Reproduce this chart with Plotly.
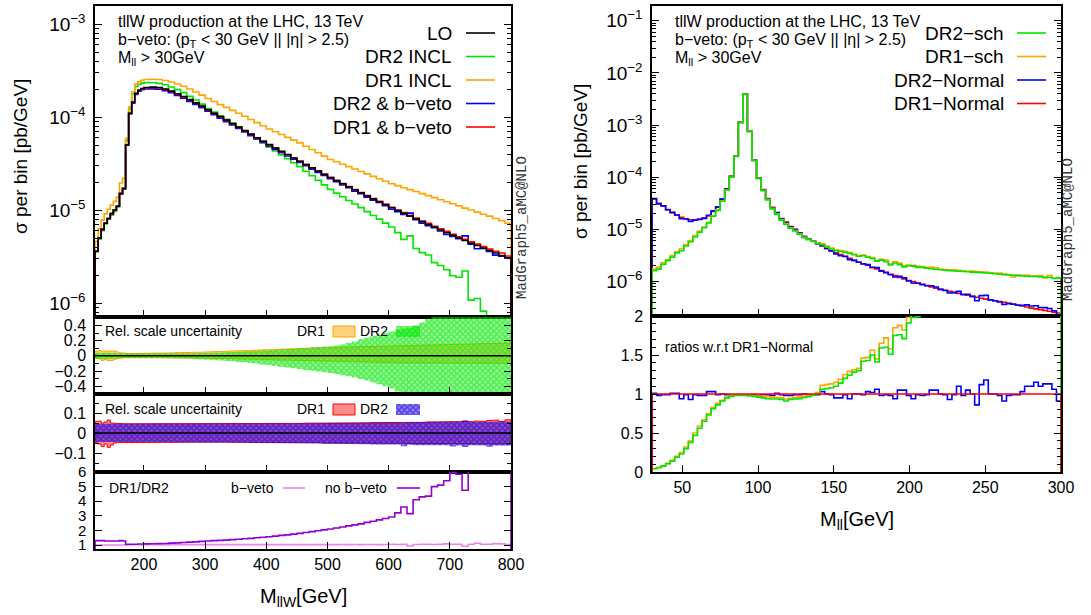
import plotly.graph_objects as go

# ======================= DATA : left plot (M_llW) =======================
left_edges = list(range(120, 200, 5)) + list(range(200, 801, 10))   # 76 bins

lo = [3.6e-6, 5.0e-6, 6.2e-6, 7.2e-6, 8.1e-6, 9.2e-6, 1.0e-5, 1.1e-5, 1.5e-5, 1.7e-5, 5.0e-5, 1.1e-4, 1.45e-4, 1.8e-4, 1.95e-4, 2.03e-4,
      2.08e-4, 2.1e-4, 2.08e-4, 2.0e-4, 1.9e-4, 1.78e-4, 1.66e-4, 1.54e-4, 1.42e-4, 1.31e-4,
      1.2e-4, 1.1e-4, 1.01e-4, 9.3e-5, 8.5e-5, 7.8e-5, 7.15e-5, 6.55e-5, 6.0e-5, 5.5e-5,
      5.05e-5, 4.65e-5, 4.28e-5, 3.95e-5, 3.63e-5, 3.35e-5, 3.08e-5, 2.84e-5, 2.62e-5, 2.42e-5,
      2.24e-5, 2.07e-5, 1.92e-5, 1.78e-5, 1.65e-5, 1.53e-5, 1.42e-5, 1.32e-5, 1.23e-5, 1.14e-5,
      1.06e-5, 9.9e-6, 9.2e-6, 8.6e-6, 8.0e-6, 7.5e-6, 7.0e-6, 6.55e-6, 6.1e-6, 5.7e-6,
      5.35e-6, 5.0e-6, 4.7e-6, 4.4e-6, 4.15e-6, 3.9e-6, 3.65e-6, 3.45e-6, 3.25e-6, 3.05e-6]

dr1_bveto = [3.6e-6, 5.0e-6, 6.2e-6, 7.2e-6, 8.1e-6, 9.1e-6, 1.0e-5, 1.1e-5, 1.5e-5, 1.7e-5, 5.0e-5, 1.1e-4, 1.44e-4, 1.78e-4, 1.93e-4, 2.01e-4,
             2.06e-4, 2.07e-4, 2.05e-4, 1.98e-4, 1.88e-4, 1.76e-4, 1.64e-4, 1.52e-4, 1.41e-4, 1.3e-4,
             1.19e-4, 1.09e-4, 1.0e-4, 9.2e-5, 8.45e-5, 7.75e-5, 7.1e-5, 6.5e-5, 5.97e-5, 5.48e-5,
             5.03e-5, 4.63e-5, 4.26e-5, 3.93e-5, 3.62e-5, 3.34e-5, 3.08e-5, 2.84e-5, 2.62e-5, 2.42e-5,
             2.24e-5, 2.08e-5, 1.93e-5, 1.79e-5, 1.66e-5, 1.54e-5, 1.43e-5, 1.33e-5, 1.24e-5, 1.16e-5,
             1.07e-5, 1.0e-5, 9.4e-6, 8.7e-6, 8.2e-6, 7.6e-6, 7.2e-6, 6.7e-6, 6.3e-6, 5.9e-6,
             5.5e-6, 5.15e-6, 4.85e-6, 4.55e-6, 4.3e-6, 4.05e-6, 3.8e-6, 3.6e-6, 3.45e-6, 3.2e-6]

# DR1/DR2 ratio with b-veto
ratio_bveto = [1.0, 1.0, 1.0, 1.0, 1.0, 1.0, 1.0, 1.0, 1.0, 1.0, 1.0, 1.02, 1.02, 1.02, 1.02, 1.02,
               1.03, 1.03, 1.03, 1.03, 1.03, 1.03, 1.03, 1.03, 1.03, 1.03,
               1.03, 1.03, 1.03, 1.03, 1.03, 1.03, 1.03, 1.03, 1.03, 1.03,
               1.03, 1.03, 1.03, 1.03, 1.03, 1.03, 1.03, 1.03, 1.03, 1.03,
               1.03, 1.03, 1.04, 1.03, 1.04, 1.03, 1.04, 1.04, 1.03, 1.04,
               1.05, 1.04, 1.05, 0.94, 1.04, 1.05, 1.06, 1.04, 1.06, 1.08,
               1.06, 1.05, 0.92, 1.06, 1.12, 1.05, 1.06, 1.1, 1.08, 1.04]

dr1_incl = [4.6e-6, 6.3e-6, 7.8e-6, 9.1e-6, 1.02e-5, 1.13e-5, 1.24e-5, 1.38e-5, 1.95e-5, 2.2e-5, 5.9e-5, 1.29e-4, 1.87e-4, 2.26e-4, 2.4e-4, 2.48e-4,
            2.53e-4, 2.55e-4, 2.53e-4, 2.47e-4, 2.38e-4, 2.27e-4, 2.14e-4, 2.0e-4, 1.86e-4, 1.72e-4,
            1.58e-4, 1.47e-4, 1.36e-4, 1.27e-4, 1.18e-4, 1.1e-4, 1.02e-4, 9.4e-5, 8.7e-5, 8.05e-5,
            7.45e-5, 6.95e-5, 6.5e-5, 6.05e-5, 5.65e-5, 5.28e-5, 4.86e-5, 4.48e-5, 4.13e-5, 3.8e-5,
            3.5e-5, 3.3e-5, 3.11e-5, 2.93e-5, 2.76e-5, 2.6e-5, 2.45e-5, 2.3e-5, 2.17e-5, 2.04e-5,
            1.92e-5, 1.83e-5, 1.74e-5, 1.66e-5, 1.58e-5, 1.5e-5, 1.43e-5, 1.36e-5, 1.29e-5, 1.23e-5,
            1.17e-5, 1.11e-5, 1.05e-5, 1.0e-5, 9.5e-6, 9.0e-6, 8.6e-6, 8.1e-6, 7.7e-6, 7.2e-6]

# DR1/DR2 ratio without b-veto
ratio_noveto = [1.3, 1.3, 1.3, 1.28, 1.28, 1.28, 1.28, 1.28, 1.3, 1.28, 1.05, 1.05, 1.05, 1.06, 1.07, 1.07,
                1.08, 1.09, 1.1, 1.11, 1.13, 1.15, 1.17, 1.2, 1.22, 1.25,
                1.28, 1.3, 1.32, 1.34, 1.37, 1.4, 1.43, 1.46, 1.5, 1.53,
                1.57, 1.61, 1.66, 1.7, 1.75, 1.8, 1.86, 1.92, 1.98, 2.04,
                2.1, 2.17, 2.24, 2.31, 2.38, 2.45, 2.55, 2.63, 2.72, 2.82,
                2.92, 3.2, 3.6, 3.15, 4.1, 4.3, 4.35, 5.0, 5.1, 5.4,
                5.95, 5.85, 4.75, 9.3, 8.5, 11.0, 12.0, 16.0, 22.0, 30.0]

# relative scale uncertainty, inclusive
unc_dr1_incl_up = [0.06, 0.07, 0.06, 0.065, 0.06, 0.06, 0.065, 0.05, 0.04, 0.035, 0.03, 0.03, 0.03, 0.032, 0.032, 0.033,
                   0.034, 0.035, 0.036, 0.037, 0.039, 0.041, 0.043, 0.045, 0.047, 0.049,
                   0.051, 0.054, 0.057, 0.06, 0.063, 0.066, 0.069, 0.072, 0.075, 0.078,
                   0.081, 0.084, 0.087, 0.09, 0.093, 0.096, 0.099, 0.102, 0.105, 0.108,
                   0.11, 0.112, 0.114, 0.116, 0.118, 0.12, 0.122, 0.124, 0.126, 0.128,
                   0.13, 0.132, 0.134, 0.136, 0.138, 0.14, 0.142, 0.144, 0.146, 0.148,
                   0.15, 0.152, 0.154, 0.156, 0.158, 0.16, 0.162, 0.164, 0.166, 0.168]
unc_dr1_incl_lo = [-0.03, -0.04, -0.06, -0.05, -0.065, -0.06, -0.045, -0.035, -0.03, -0.025, -0.02, -0.02, -0.02, -0.02, -0.02, -0.02,
                   -0.02, -0.021, -0.022, -0.023, -0.024, -0.025, -0.026, -0.027, -0.028, -0.029,
                   -0.03, -0.032, -0.034, -0.036, -0.038, -0.04, -0.042, -0.044, -0.046, -0.048,
                   -0.05, -0.052, -0.054, -0.056, -0.058, -0.06, -0.062, -0.064, -0.066, -0.068,
                   -0.07, -0.072, -0.074, -0.076, -0.078, -0.08, -0.082, -0.084, -0.086, -0.088,
                   -0.09, -0.092, -0.094, -0.096, -0.098, -0.1, -0.1, -0.1, -0.1, -0.1,
                   -0.1, -0.1, -0.1, -0.1, -0.1, -0.1, -0.1, -0.1, -0.1, -0.1]
unc_dr2_incl_up = [0.04, 0.045, 0.04, 0.045, 0.04, 0.04, 0.04, 0.035, 0.03, 0.03, 0.025, 0.025, 0.025, 0.025, 0.025, 0.025,
                   0.025, 0.025, 0.026, 0.027, 0.028, 0.029, 0.03, 0.032, 0.034, 0.036,
                   0.038, 0.04, 0.043, 0.046, 0.05, 0.054, 0.058, 0.062, 0.066, 0.07,
                   0.074, 0.078, 0.083, 0.088, 0.093, 0.1, 0.105, 0.11, 0.115, 0.12,
                   0.125, 0.135, 0.15, 0.17, 0.19, 0.22, 0.24, 0.26, 0.28, 0.3,
                   0.32, 0.34, 0.36, 0.37, 0.4, 0.44, 0.49, 0.6, 0.6, 0.6,
                   0.6, 0.6, 0.6, 0.6, 0.6, 0.6, 0.6, 0.6, 0.6, 0.6]
unc_dr2_incl_lo = [-0.04, -0.045, -0.05, -0.045, -0.04, -0.04, -0.04, -0.035, -0.03, -0.03, -0.025, -0.025, -0.025, -0.025, -0.025, -0.025,
                   -0.025, -0.025, -0.026, -0.028, -0.03, -0.032, -0.035, -0.038, -0.042, -0.046,
                   -0.05, -0.055, -0.06, -0.066, -0.072, -0.08, -0.088, -0.096, -0.105, -0.115,
                   -0.125, -0.135, -0.145, -0.155, -0.165, -0.175, -0.185, -0.195, -0.205, -0.215,
                   -0.225, -0.24, -0.255, -0.27, -0.285, -0.305, -0.325, -0.35, -0.375, -0.4,
                   -0.43, -0.47, -0.6, -0.6, -0.6, -0.6, -0.6, -0.6, -0.6, -0.6,
                   -0.6, -0.6, -0.6, -0.6, -0.6, -0.6, -0.6, -0.6, -0.6, -0.6]

# relative scale uncertainty, b-veto
unc_dr1_bveto_up = [0.058, 0.06, 0.05, 0.055, 0.065, 0.05, 0.05, 0.048, 0.047, 0.046, 0.045, 0.045, 0.045, 0.045, 0.045, 0.045,
                    0.045, 0.045, 0.045, 0.045, 0.045, 0.045, 0.045, 0.045, 0.045, 0.045,
                    0.045, 0.046, 0.045, 0.046, 0.046, 0.046, 0.047, 0.046, 0.047, 0.047,
                    0.047, 0.048, 0.047, 0.048, 0.048, 0.048, 0.049, 0.048, 0.049, 0.049,
                    0.05, 0.049, 0.05, 0.05, 0.051, 0.05, 0.051, 0.052, 0.051, 0.052,
                    0.052, 0.053, 0.052, 0.053, 0.054, 0.053, 0.055, 0.054, 0.056, 0.055,
                    0.056, 0.057, 0.058, 0.056, 0.06, 0.058, 0.062, 0.065, 0.058, 0.066]
unc_dr1_bveto_lo = [-0.05, -0.055, -0.068, -0.055, -0.072, -0.06, -0.05, -0.048, -0.047, -0.046, -0.045, -0.045, -0.045, -0.045, -0.045, -0.045,
                    -0.045, -0.045, -0.045, -0.045, -0.045, -0.045, -0.045, -0.045, -0.045, -0.045,
                    -0.045, -0.045, -0.046, -0.045, -0.046, -0.046, -0.046, -0.047, -0.046, -0.047,
                    -0.047, -0.047, -0.048, -0.047, -0.048, -0.048, -0.048, -0.049, -0.048, -0.049,
                    -0.049, -0.05, -0.049, -0.05, -0.05, -0.05, -0.051, -0.05, -0.051, -0.051,
                    -0.051, -0.052, -0.051, -0.052, -0.052, -0.052, -0.053, -0.052, -0.053, -0.053,
                    -0.053, -0.054, -0.053, -0.054, -0.054, -0.055, -0.054, -0.055, -0.055, -0.055]
unc_dr2_bveto_up = [0.046, 0.045, 0.045, 0.046, 0.045, 0.045, 0.045, 0.045, 0.045, 0.045, 0.045, 0.045, 0.045, 0.045, 0.045, 0.045,
                    0.045, 0.045, 0.045, 0.045, 0.045, 0.045, 0.045, 0.045, 0.045, 0.045,
                    0.045, 0.046, 0.045, 0.046, 0.046, 0.046, 0.047, 0.046, 0.047, 0.047,
                    0.047, 0.048, 0.047, 0.048, 0.048, 0.049, 0.048, 0.049, 0.049, 0.05,
                    0.049, 0.05, 0.05, 0.05, 0.051, 0.05, 0.051, 0.052, 0.051, 0.052,
                    0.052, 0.053, 0.052, 0.055, 0.053, 0.054, 0.053, 0.055, 0.054, 0.056,
                    0.055, 0.056, 0.064, 0.055, 0.057, 0.056, 0.057, 0.058, 0.056, 0.057]
unc_dr2_bveto_lo = [-0.045, -0.045, -0.046, -0.045, -0.046, -0.045, -0.045, -0.045, -0.045, -0.045, -0.045, -0.045, -0.045, -0.045, -0.045, -0.045,
                    -0.045, -0.045, -0.045, -0.045, -0.046, -0.046, -0.046, -0.046, -0.047, -0.047,
                    -0.047, -0.048, -0.048, -0.048, -0.049, -0.049, -0.049, -0.05, -0.05, -0.05,
                    -0.05, -0.051, -0.051, -0.052, -0.052, -0.052, -0.053, -0.053, -0.053, -0.054,
                    -0.054, -0.055, -0.054, -0.056, -0.055, -0.057, -0.056, -0.058, -0.057, -0.059,
                    -0.06, -0.058, -0.066, -0.059, -0.061, -0.06, -0.062, -0.06, -0.063, -0.061,
                    -0.068, -0.062, -0.07, -0.061, -0.063, -0.062, -0.069, -0.063, -0.064, -0.062]

# ======================= DATA : right plot (M_ll) =======================
right_edges = list(range(30, 301, 3))   # 90 bins

dr1_normal = [3.85e-5, 3.15e-5, 2.85e-5, 2.4e-5, 2.1e-5, 1.87e-5, 1.7e-5, 1.6e-5, 1.53e-5, 1.52e-5,
              1.58e-5, 1.66e-5, 1.82e-5, 2.2e-5, 2.7e-5, 3.8e-5, 6.0e-5, 1.05e-4, 2.55e-4, 1.14e-3,
              3.95e-3, 7.7e-4, 2.15e-4, 9.8e-5, 5.8e-5, 3.9e-5, 2.65e-5, 2.08e-5, 1.62e-5, 1.38e-5,
              1.13e-5, 1.0e-5, 8.6e-6, 7.3e-6, 6.6e-6, 6.0e-6, 5.4e-6, 4.8e-6, 4.3e-6, 3.9e-6,
              3.55e-6, 3.3e-6, 3.05e-6, 2.8e-6, 2.55e-6, 2.35e-6, 2.2e-6, 2.05e-6, 1.85e-6, 1.75e-6,
              1.62e-6, 1.5e-6, 1.38e-6, 1.3e-6, 1.2e-6, 1.12e-6, 1.05e-6, 1.0e-6, 9.4e-7, 8.9e-7,
              8.4e-7, 7.9e-7, 7.5e-7, 7.1e-7, 6.8e-7, 6.5e-7, 6.2e-7, 5.9e-7, 5.7e-7, 5.45e-7,
              5.2e-7, 5.0e-7, 4.8e-7, 4.6e-7, 4.45e-7, 4.3e-7, 4.15e-7, 4.0e-7, 3.85e-7, 3.7e-7,
              3.55e-7, 3.4e-7, 3.25e-7, 3.1e-7, 3.0e-7, 2.9e-7, 2.8e-7, 2.7e-7, 2.6e-7, 2.5e-7]

# ratios w.r.t. DR1-Normal
r_dr2_normal = [1.01, 0.98, 0.99, 0.99, 1.01, 1.01, 0.94, 0.99, 0.93, 0.99,
                0.98, 0.98, 1.03, 1.03, 0.99, 1.0, 0.99, 0.98, 0.99, 0.99,
                0.99, 0.99, 0.99, 0.98, 0.99, 0.99, 0.98, 1.01, 0.99, 0.98,
                0.98, 0.99, 0.99, 1.0, 0.99, 0.99, 0.99, 1.03, 1.0, 0.99,
                0.95, 0.95, 0.99, 0.94, 1.0, 1.0, 0.99, 1.03, 1.02, 1.06,
                0.98, 0.99, 0.98, 0.94, 1.05, 1.05, 0.98, 0.94, 0.99, 0.98,
                0.99, 1.05, 1.05, 1.0, 0.99, 0.93, 0.99, 1.1, 0.98, 1.05,
                1.0, 0.86, 1.12, 1.18, 1.0, 1.0, 0.98, 0.91, 0.98, 0.99,
                0.99, 1.03, 1.1, 1.1, 1.15, 1.1, 1.13, 1.13, 1.06, 0.91]
r_dr2_sch = [0.042, 0.055, 0.075, 0.105, 0.14, 0.19, 0.23, 0.3, 0.38, 0.47,
             0.56, 0.65, 0.73, 0.81, 0.86, 0.91, 0.95, 0.97, 0.98, 0.98,
             0.98, 0.975, 0.97, 0.96, 0.95, 0.94, 0.935, 0.935, 0.93, 0.91,
             0.93, 0.935, 0.94, 0.955, 0.965, 0.98, 1.0, 1.06, 1.07, 1.08,
             1.1, 1.14, 1.2, 1.24, 1.28, 1.3, 1.42, 1.43, 1.5, 1.41,
             1.59, 1.6, 1.51, 1.75, 1.76, 1.71, 1.91, 1.98, 1.99, 2.1,
             2.14, 2.23, 2.29, 2.37, 2.43, 2.49, 2.58, 2.68, 2.74, 2.83,
             2.92, 3.0, 3.08, 3.17, 3.24, 3.28, 3.33, 3.4, 3.48, 3.57,
             3.66, 3.76, 3.9, 4.06, 4.17, 4.24, 4.36, 4.48, 4.4, 4.7]
r_dr1_sch = [0.045, 0.06, 0.08, 0.11, 0.15, 0.2, 0.25, 0.32, 0.4, 0.5,
             0.59, 0.67, 0.75, 0.83, 0.88, 0.92, 0.96, 0.98, 0.99, 0.99,
             0.99, 0.985, 0.98, 0.975, 0.97, 0.965, 0.96, 0.955, 0.95, 0.935,
             0.945, 0.955, 0.96, 0.97, 0.98, 0.99, 1.02, 1.11, 1.12, 1.13,
             1.15, 1.19, 1.25, 1.29, 1.31, 1.33, 1.46, 1.47, 1.56, 1.45,
             1.65, 1.72, 1.58, 1.85, 1.88, 1.82, 1.98, 2.06, 2.1, 2.18,
             2.22, 2.4, 2.45, 2.45, 2.5, 2.58, 2.7, 2.8, 2.82, 2.9,
             3.05, 3.1, 3.2, 3.3, 3.3, 3.4, 3.5, 3.5, 3.55, 3.3,
             3.75, 3.9, 4.1, 4.1, 4.3, 4.5, 4.2, 4.9, 4.5, 4.7]

# ---------------- derived series ----------------
dr2_bveto = [a / b for a, b in zip(dr1_bveto, ratio_bveto)]
dr2_incl = [a / b for a, b in zip(dr1_incl, ratio_noveto)]
dr2_normal = [a * b for a, b in zip(dr1_normal, r_dr2_normal)]
dr1_sch = [a * b for a, b in zip(dr1_normal, r_dr1_sch)]
dr2_sch = [a * b for a, b in zip(dr1_normal, r_dr2_sch)]
r_dr1_normal = [a / a for a in dr1_normal]

# ======================= STYLE / LAYOUT =======================
W, H = 1091, 615
FONT = "Liberation Sans, Arial, sans-serif"
MONO = "Liberation Mono, Courier New, monospace"
GREEN = "#00e600"
ORANGE = "#ffa500"
BLUE = "#0000ff"
RED = "#ff0000"
BLACK = "#000000"
PINK = "#ee82ee"
PURPLE = "#9400d3"


def px(x):
    return x / W


def py(y):
    return 1 - y / H


fig = go.Figure()


def hist(edges, vals, color, ax, floor, width=1.6):
    xs = [edges[0]] + list(edges) + [edges[-1]]
    ys = [floor] + list(vals) + [vals[-1], floor]
    fig.add_trace(go.Scatter(x=xs, y=ys, mode="lines",
                             line=dict(color=color, width=width, shape="hv"),
                             xaxis="x" + ax, yaxis="y" + ax,
                             showlegend=False, hoverinfo="skip"))


def band(edges, up, lo, ax, fillcolor, linecolor=None, pattern=None):
    xs, ys = [], []
    for i in range(len(up)):
        xs += [edges[i], edges[i + 1]]
        ys += [up[i], up[i]]
    for i in reversed(range(len(lo))):
        xs += [edges[i + 1], edges[i]]
        ys += [lo[i], lo[i]]
    xs.append(xs[0])
    ys.append(ys[0])
    kw = dict(x=xs, y=ys, mode="lines", fill="toself", fillcolor=fillcolor,
              line=dict(color=linecolor or "rgba(0,0,0,0)", width=1 if linecolor else 0),
              xaxis="x" + ax, yaxis="y" + ax, showlegend=False, hoverinfo="skip")
    if pattern:
        kw["fillpattern"] = pattern
    fig.add_trace(go.Scatter(**kw))


def hatch(color, bg):
    return dict(shape="x", size=4, solidity=0.7, fgcolor=color, bgcolor=bg)


GREEN_BG = "rgba(0,230,0,0.35)"
BLUE_BG = "rgba(60,0,200,0.45)"

# ---- left main ----
hist(left_edges, dr2_incl, GREEN, "", 1e-12)
hist(left_edges, dr1_incl, ORANGE, "", 1e-12)
hist(left_edges, dr2_bveto, BLUE, "", 1e-12)
hist(left_edges, dr1_bveto, RED, "", 1e-12)
hist(left_edges, lo, BLACK, "", 1e-12)

# ---- left band 1 (inclusive) ----
band(left_edges, unc_dr1_incl_up, unc_dr1_incl_lo, "2", "rgba(255,165,0,0.5)", ORANGE)
band(left_edges, unc_dr2_incl_up, unc_dr2_incl_lo, "2", "rgba(0,0,0,0)", None, hatch(GREEN, GREEN_BG))

# ---- left band 2 (b-veto) ----
band(left_edges, unc_dr1_bveto_up, unc_dr1_bveto_lo, "3", "rgba(255,60,60,0.6)", RED)
band(left_edges, unc_dr2_bveto_up, unc_dr2_bveto_lo, "3", "rgba(0,0,0,0)", None, hatch(BLUE, BLUE_BG))

# ---- left ratio ----
hist(left_edges, ratio_bveto, PINK, "4", 0)
hist(left_edges, ratio_noveto, PURPLE, "4", 0)

# ---- right main ----
hist(right_edges, dr1_normal, RED, "5", 1e-12)
hist(right_edges, dr2_normal, BLUE, "5", 1e-12)
hist(right_edges, dr1_sch, ORANGE, "5", 1e-12)
hist(right_edges, dr2_sch, GREEN, "5", 1e-12)

# ---- right ratio ----
hist(right_edges, r_dr2_normal, BLUE, "6", 0)
hist(right_edges, r_dr1_sch, ORANGE, "6", 0)
hist(right_edges, r_dr2_sch, GREEN, "6", 0)
hist(right_edges, r_dr1_normal, RED, "6", 0)


# ---- legend boxes for bands (overlay axis in paper units) ----
def box(x0, x1, y0, y1, fillcolor, linecolor=None, pattern=None):
    xs = [px(x0), px(x1), px(x1), px(x0), px(x0)]
    ys = [py(y0), py(y0), py(y1), py(y1), py(y0)]
    kw = dict(x=xs, y=ys, mode="lines", fill="toself", fillcolor=fillcolor,
              line=dict(color=linecolor or "rgba(0,0,0,0)", width=1 if linecolor else 0),
              xaxis="x7", yaxis="y7", showlegend=False, hoverinfo="skip")
    if pattern:
        kw["fillpattern"] = pattern
    fig.add_trace(go.Scatter(**kw))


box(333, 355, 326, 337, "rgba(255,165,0,0.5)", ORANGE)
box(396, 420, 326, 337, "rgba(0,0,0,0)", None, hatch(GREEN, GREEN_BG))
box(333, 355, 404, 415, "rgba(255,60,60,0.6)", RED)
box(396, 420, 404, 415, "rgba(0,0,0,0)", None, hatch(BLUE, BLUE_BG))

LX = [px(95), px(511)]
RX = [px(652), px(1061)]

log_minor = [k * 10.0 ** e for e in range(-8, 0) for k in range(2, 10)]


def xax(dom, rng, vals, labels, anchor):
    return dict(domain=dom, range=rng, anchor=anchor, tickmode="array", tickvals=vals,
                showticklabels=labels, showline=True, linecolor="black", linewidth=1.5,
                mirror=True, ticks="inside", ticklen=7, tickwidth=1, tickcolor="black",
                showgrid=False, zeroline=False, fixedrange=True, automargin=False,
                tickfont=dict(family=FONT, size=16, color="black"))


def yax_lin(dom, rng, dtick, minor_dt, anchor, tick0=0, size=16):
    d = dict(domain=dom, range=rng, anchor=anchor, tick0=tick0, dtick=dtick,
             showline=True, linecolor="black", linewidth=1.5, mirror="ticks",
             ticks="inside", ticklen=7, tickwidth=1, tickcolor="black",
             showgrid=False, zeroline=False, fixedrange=True, ticklabelstandoff=4,
             automargin=False, tickfont=dict(family=FONT, size=size, color="black"))
    if minor_dt:
        d["minor"] = dict(dtick=minor_dt, ticks="inside", ticklen=4, tickcolor="black", showgrid=False)
    return d


def yax_log(dom, rng, exps, anchor):
    return dict(domain=dom, range=rng, anchor=anchor, type="log",
                tickmode="array", tickvals=[10.0 ** e for e in exps],
                ticktext=["10<sup>\u2212%d</sup>" % (-e) for e in exps],
                minor=dict(tickmode="array", tickvals=log_minor, ticks="inside", ticklen=4,
                           tickcolor="black", showgrid=False),
                showline=True, linecolor="black", linewidth=1.5, mirror="ticks",
                ticks="inside", ticklen=7, tickwidth=1, tickcolor="black",
                showgrid=False, zeroline=False, fixedrange=True, ticklabelstandoff=4,
                automargin=False, tickfont=dict(family=FONT, size=19, color="black"))


lx_ticks = [200, 300, 400, 500, 600, 700, 800]
rx_ticks = [50, 100, 150, 200, 250, 300]

layout = dict(
    width=W, height=H, autosize=False,
    margin=dict(l=0, r=0, t=0, b=0, pad=0, autoexpand=False),
    paper_bgcolor="white", plot_bgcolor="rgba(0,0,0,0)", showlegend=False,
    xaxis=xax(LX, [120, 800], lx_ticks, False, "y"),
    yaxis=yax_log([py(317), py(6)], [-6.15, -2.806], [-6, -5, -4, -3], "x"),
    xaxis2=xax(LX, [120, 800], lx_ticks, False, "y2"),
    yaxis2=yax_lin([py(394), py(317)], [-0.503, 0.512], 0.2, 0.1, "x2"),
    xaxis3=xax(LX, [120, 800], lx_ticks, False, "y3"),
    yaxis3=yax_lin([py(472), py(394)], [-0.195, 0.195], 0.1, 0.05, "x3"),
    xaxis4=xax(LX, [120, 800], lx_ticks, True, "y4"),
    yaxis4=yax_lin([py(549), py(472)], [0.73, 6.0], 1, None, "x4", size=15),
    xaxis5=xax(RX, [30, 300], rx_ticks, False, "y5"),
    yaxis5=yax_log([py(316), py(6)], [-6.66, -0.717], [-6, -5, -4, -3, -2, -1], "x5"),
    xaxis6=xax(RX, [30, 300], rx_ticks, True, "y6"),
    yaxis6=yax_lin([py(472), py(316)], [0, 2], 0.5, 0.1, "x6"),
    xaxis7=dict(domain=[0, 1], range=[0, 1], visible=False, fixedrange=True, anchor="y7", automargin=False),
    yaxis7=dict(domain=[0, 1], range=[0, 1], visible=False, fixedrange=True, anchor="x7", automargin=False),
)
fig.update_layout(**layout)

shapes = []
# zero lines in the band panels
for ax in ("2", "3"):
    shapes.append(dict(type="line", xref="x%s domain" % ax, x0=0, x1=1, yref="y" + ax, y0=0, y1=0,
                       line=dict(color="black", width=1.5), layer="above"))


def legline(x0, x1, y, color):
    shapes.append(dict(type="line", xref="paper", yref="paper", x0=px(x0), x1=px(x1),
                       y0=py(y), y1=py(y), line=dict(color=color, width=1.6)))


annotations = []


def ann(text, x, y, size, xanchor="left", angle=0, family=FONT, color="black"):
    annotations.append(dict(text=text, x=px(x), y=py(y), xref="paper", yref="paper",
                            xanchor=xanchor, yanchor="middle", showarrow=False, textangle=angle,
                            font=dict(family=family, size=size, color=color)))


# header texts
for x0 in (116, 673):
    ann("tllW production at the LHC, 13 TeV", x0, 22, 16)
    ann("b\u2212veto: (p<sub>T</sub> &lt; 30 GeV || |\u03b7| &gt; 2.5)", x0, 40, 16)
    ann("M<sub>ll</sub> &gt; 30GeV", x0, 58, 16)

# left legend
left_leg = [("LO", BLACK), ("DR2 INCL", GREEN), ("DR1 INCL", ORANGE),
            ("DR2 &amp; b\u2212veto", BLUE), ("DR1 &amp; b\u2212veto", RED)]
for k, (t, c) in enumerate(left_leg):
    y = 33 + 23.5 * k
    ann(t, 454, y, 19, xanchor="right")
    legline(466, 495, y, c)

# right legend
right_leg = [("DR2\u2212sch", GREEN), ("DR1\u2212sch", ORANGE),
             ("DR2\u2212Normal", BLUE), ("DR1\u2212Normal", RED)]
for k, (t, c) in enumerate(right_leg):
    y = 33 + 23.5 * k
    ann(t, 1006, y, 19, xanchor="right")
    legline(1017, 1046, y, c)

# band panel labels
ann("Rel. scale uncertainity", 103, 331, 14)
ann("DR1", 327, 331, 14, xanchor="right")
ann("DR2", 390, 331, 14, xanchor="right")
ann("Rel. scale uncertainity", 103, 409, 14)
ann("DR1", 327, 409, 14, xanchor="right")
ann("DR2", 390, 409, 14, xanchor="right")

# left ratio labels
ann("DR1/DR2", 107, 488, 14)
ann("b\u2212veto", 276, 488, 14, xanchor="right")
legline(283, 305, 488, PINK)
ann("no b\u2212veto", 389, 488, 14, xanchor="right")
legline(397, 420, 488, PURPLE)

# right ratio label
ann("ratios w.r.t DR1\u2212Normal", 663, 347, 14)

# axis titles
ann("\u03c3 per bin [pb/GeV]", 20, 157, 19, xanchor="center", angle=-90)
ann("\u03c3 per bin [pb/GeV]", 580, 162, 19, xanchor="center", angle=-90)
ann("M<sub>llW</sub>[GeV]", 303, 597, 20, xanchor="center")
ann("M<sub>ll</sub>[GeV]", 857, 520, 20, xanchor="center")

# MadGraph tags
ann("MadGraph5_aMC@NLO", 522, 228, 14, xanchor="center", angle=-90, family=MONO, color="#333333")
ann("MadGraph5_aMC@NLO", 1068, 230, 14, xanchor="center", angle=-90, family=MONO, color="#333333")

fig.update_layout(shapes=shapes, annotations=annotations)

POST = ("document.documentElement.style.margin='0';document.documentElement.style.padding='0';"
        "document.documentElement.style.overflow='hidden';"
        "document.body.style.margin='0';document.body.style.padding='0';document.body.style.overflow='hidden';"
        "var gd=document.getElementById('{plot_id}');gd.style.display='block';"
        "if(gd.parentElement){gd.parentElement.style.display='block';gd.parentElement.style.margin='0';}")

fig.write_html("out.html", config={"displayModeBar": False, "responsive": False},
               post_script=POST)
